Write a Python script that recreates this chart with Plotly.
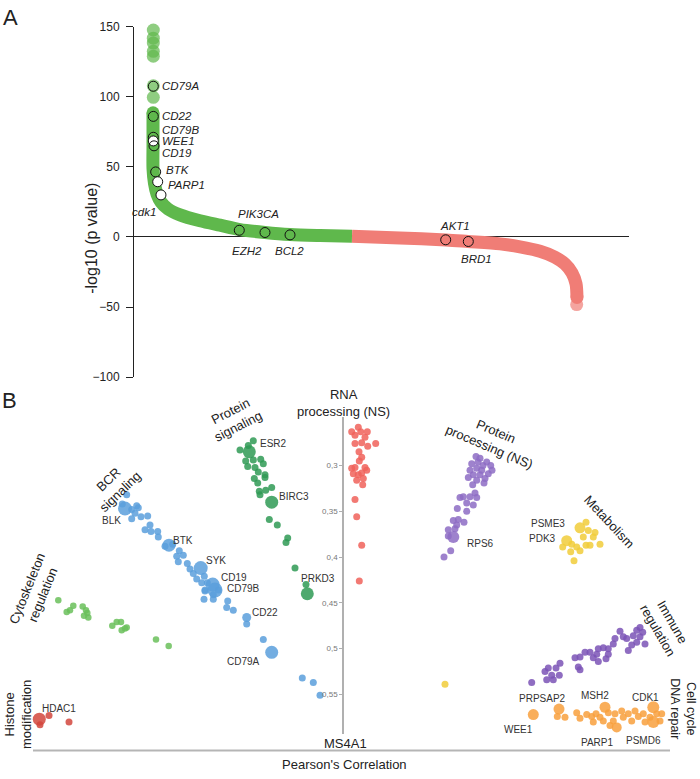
import plotly.graph_objects as go

W, H = 700, 779
FONT = "Liberation Sans, Arial, sans-serif"

# ---------------- Panel A data (rank percentile vs -log10 p) ----------------
green_rank = [3.84, 3.84, 3.84, 4.14, 4.65, 5.45, 6.87, 9.29, 13.33, 17.37, 21.41, 26.46, 31.52, 37.58, 44.04]
green_logp = [88.6, 66.2, 48.7, 38.2, 30.5, 24.9, 20.0, 15.8, 11.6, 8.4, 5.3, 3.2, 1.75, 1.05, 0.6]
red_rank = [44.04, 53.74, 63.03, 67.47, 73.94, 77.98, 82.02, 85.05, 87.07, 88.48, 89.29, 89.49]
red_logp = [0.6, -0.7, -2.1, -3.2, -4.9, -7.0, -10.2, -14.4, -19.3, -25.6, -33.3, -43.1]
top_rank = [3.9, 3.9, 3.9, 3.9, 3.9, 3.9, 3.9]
top_logp = [147.6, 141.8, 138.3, 132.4, 128.9, 107.8, 99.6]
tail_rank = [89.43]
tail_logp = [-48.2]

genesA = ["CD79A", "CD22", "CD79B", "WEE1", "CD19", "BTK", "PARP1", "cdk1",
          "PIK3CA", "EZH2", "BCL2", "AKT1", "BRD1"]
rankA = [3.9, 3.9, 3.9, 3.9, 4.04, 4.38, 4.79, 5.45, 21.27, 26.46, 31.52, 62.97, 67.54]
logpA = [107.5, 86.0, 71.1, 68.5, 65.0, 46.4, 39.4, 30.0, 4.8, 3.2, 1.5, -2.0, -3.2]
white_genes = ["WEE1", "PARP1", "cdk1"]
yticksA = [-100, -50, 0, 50, 100, 150]

# ---------------- Panel B data (layout position vs Pearson correlation) ----------------
bcr_x = [126.7, 122.3, 131.7, 136.7, 135, 138.3, 131.7, 141, 147.7, 150, 145, 151, 157.7, 158.3, 165, 172.7,
         179.3, 176.7, 183.3, 178.3, 187.3, 190, 193.3, 196.7, 204.3, 207.3, 218.3, 205, 201.7, 205, 213.3,
         213.3, 204, 227.7, 226.7, 233.3, 246.7, 263.3, 302.3, 313.3, 320]
bcr_r = [0.332, 0.342, 0.348, 0.344, 0.352, 0.346, 0.358, 0.356, 0.355, 0.365, 0.370, 0.372, 0.372, 0.378,
         0.388, 0.386, 0.393, 0.399, 0.398, 0.405, 0.407, 0.413, 0.418, 0.424, 0.421, 0.428, 0.436, 0.436,
         0.428, 0.437, 0.441, 0.446, 0.446, 0.448, 0.455, 0.458, 0.473, 0.490, 0.532, 0.537, 0.551]
bcr_hub = ["BLK", "BTK", "SYK", "CD19", "CD79B", "CD22", "CD79A"]
bcr_hub_x = [125, 169, 200.7, 212.7, 215, 246.7, 271.7]
bcr_hub_r = [0.347, 0.387, 0.412, 0.430, 0.436, 0.466, 0.504]
bcr_hub_w = [14, 13, 14, 14, 15, 9, 13]

psig_x = [253.3, 248.3, 240, 245.7, 253.3, 260.7, 263.3, 247.7, 255, 258.3, 265, 265, 254.3, 257.7, 265.7,
          271.7, 259.3, 260, 269.3, 277.3, 287.7, 286, 295, 306]
psig_r = [0.273, 0.278, 0.283, 0.295, 0.294, 0.293, 0.298, 0.301, 0.302, 0.307, 0.310, 0.313, 0.314, 0.319,
          0.327, 0.324, 0.328, 0.332, 0.359, 0.365, 0.379, 0.384, 0.412, 0.430]
psig_hub = ["ESR2", "BIRC3", "PRKD3"]
psig_hub_x = [249.3, 271.7, 307.3]
psig_hub_r = [0.285, 0.340, 0.440]
psig_hub_w = [13, 13, 13]

cyto_x = [58.3, 73.3, 70, 66.7, 82.7, 86, 87.3, 84, 88.3, 112.3, 116.7, 121, 126.7, 121.7, 125, 156, 168.7]
cyto_r = [0.447, 0.453, 0.458, 0.460, 0.454, 0.458, 0.461, 0.464, 0.466, 0.475, 0.471, 0.471, 0.477, 0.480,
          0.478, 0.490, 0.497]

hist_x = [49, 40, 69]
hist_r = [0.573, 0.583, 0.580]
hist_hub = ["HDAC1"]
hist_hub_x = [39.3]
hist_hub_r = [0.577]
hist_hub_w = [13]

rna_x = [351.7, 358.3, 360.7, 367.3, 355, 365, 355, 361.7, 367.7, 375.7, 359, 361.7, 359.3, 351.7, 355, 365,
         366.7, 353.3, 358.3, 361.7, 356.7, 363.3, 362.7, 355, 356.7, 361.7, 359.3]
rna_r = [0.263, 0.258, 0.263, 0.263, 0.267, 0.269, 0.276, 0.275, 0.279, 0.276, 0.285, 0.291, 0.295, 0.303,
         0.302, 0.302, 0.305, 0.309, 0.310, 0.308, 0.316, 0.314, 0.321, 0.337, 0.356, 0.387, 0.426]

pproc_x = [476, 480, 486.7, 490.7, 471.7, 470, 476.7, 481.7, 488.3, 473.3, 480, 468.3, 485, 476.7, 472.7,
           475, 460, 463.3, 470, 476.7, 466.7, 473.3, 457.3, 466.7, 453.3, 458.3, 464, 456.7, 448.3, 455,
           448.3, 450.7, 444, 483, 478, 492, 484]
pproc_r = [0.290, 0.292, 0.296, 0.300, 0.298, 0.305, 0.303, 0.305, 0.309, 0.310, 0.310, 0.313, 0.314, 0.316,
           0.321, 0.330, 0.335, 0.334, 0.334, 0.335, 0.341, 0.343, 0.347, 0.350, 0.360, 0.359, 0.362, 0.365,
           0.370, 0.369, 0.377, 0.393, 0.400, 0.300, 0.296, 0.305, 0.319]
pproc_hub = ["RPS6"]
pproc_hub_x = [453.3]
pproc_hub_r = [0.378]
pproc_hub_w = [12]

meta_x = [586, 588.3, 595, 593.3, 600, 562.7, 571.7, 576.7, 580, 570.7, 586, 590, 574, 583.3, 445]
meta_r = [0.362, 0.371, 0.373, 0.378, 0.386, 0.389, 0.386, 0.389, 0.393, 0.394, 0.387, 0.387, 0.404,
          0.378, 0.539]
meta_hub = ["PSME3", "PDK3"]
meta_hub_x = [580, 566.7]
meta_hub_r = [0.368, 0.382]
meta_hub_w = [11, 11]

imm_x = [640, 642.7, 636.7, 633.3, 640, 645, 636.7, 631.7, 626.7, 623.3, 628.3, 615, 613.3, 608.3, 603.3,
         608.3, 606, 598.3, 596.7, 593.3, 598.3, 590, 585, 580, 575, 578.3, 580, 560, 556, 548.3, 545,
         551.7, 559.3, 546.7, 553.3, 531.7, 620]
imm_r = [0.477, 0.482, 0.480, 0.486, 0.487, 0.495, 0.493, 0.496, 0.489, 0.487, 0.502, 0.489, 0.495, 0.500,
         0.499, 0.506, 0.511, 0.500, 0.506, 0.510, 0.514, 0.504, 0.504, 0.509, 0.510, 0.520, 0.523, 0.516,
         0.521, 0.521, 0.525, 0.529, 0.529, 0.534, 0.534, 0.537, 0.481]

cc_x = [557.3, 565, 576.7, 580, 586.7, 591.7, 596, 600, 608.3, 603.3, 615, 613.3, 610, 621.7, 623.3, 628.3,
        631.7, 635, 638.3, 643.3, 645, 656.7, 660, 661.7, 650, 593.3]
cc_r = [0.574, 0.575, 0.570, 0.576, 0.572, 0.574, 0.571, 0.575, 0.570, 0.579, 0.571, 0.579, 0.584, 0.568,
        0.575, 0.571, 0.579, 0.568, 0.574, 0.571, 0.580, 0.571, 0.579, 0.571, 0.575, 0.580]
cc_hub = ["WEE1", "PRPSAP2", "MSH2", "PARP1", "CDK1", "PSMD6"]
cc_hub_x = [533.3, 559, 605, 616.7, 653.3, 653.3]
cc_hub_r = [0.572, 0.566, 0.564, 0.586, 0.564, 0.580]
cc_hub_w = [11, 11, 11, 10, 12, 12]

corr_ticks = [0.3, 0.35, 0.4, 0.45, 0.5, 0.55]
corr_ticktext = ["0,3", "0,35", "0,4", "0,45", "0,5", "0,55"]

# ---------------- styles ----------------
GREEN_A = "#5fb84c"
RED_A = "#f07d76"

fig = go.Figure()

# Panel A
fig.add_trace(go.Scatter(x=top_rank, y=top_logp, mode="markers", xaxis="x", yaxis="y",
                         marker=dict(size=13, color=GREEN_A, opacity=0.7, line=dict(width=0)),
                         hoverinfo="skip", cliponaxis=False))
fig.add_trace(go.Scatter(x=tail_rank, y=tail_logp, mode="markers", xaxis="x", yaxis="y",
                         marker=dict(size=13, color=RED_A, opacity=0.7, line=dict(width=0)),
                         hoverinfo="skip", cliponaxis=False))
fig.add_trace(go.Scatter(x=red_rank, y=red_logp, mode="lines", xaxis="x", yaxis="y",
                         line=dict(color=RED_A, width=13, shape="spline", smoothing=0.8),
                         hoverinfo="skip", cliponaxis=False))
fig.add_trace(go.Scatter(x=green_rank, y=green_logp, mode="lines", xaxis="x", yaxis="y",
                         line=dict(color=GREEN_A, width=13, shape="spline", smoothing=0.8),
                         hoverinfo="skip", cliponaxis=False))
fig.add_trace(go.Scatter(x=green_rank[:1], y=green_logp[:1], mode="markers", xaxis="x", yaxis="y",
                         marker=dict(size=13, color=GREEN_A, line=dict(width=0)),
                         hoverinfo="skip", cliponaxis=False))
fig.add_trace(go.Scatter(x=red_rank[-1:], y=red_logp[-1:], mode="markers", xaxis="x", yaxis="y",
                         marker=dict(size=13, color=RED_A, line=dict(width=0)),
                         hoverinfo="skip", cliponaxis=False))
fig.add_trace(go.Scatter(
    x=rankA, y=logpA, mode="markers", xaxis="x", yaxis="y", text=genesA, hoverinfo="text",
    marker=dict(size=10, color=["white" if g in white_genes else "rgba(0,0,0,0)" for g in genesA],
                line=dict(color="#111", width=1)), cliponaxis=False))

labelA_style = {
    "CD79A": ("left", 7, 0), "CD22": ("left", 7, 0), "CD79B": ("left", 7, 7),
    "WEE1": ("left", 7, 0), "CD19": ("left", 6, -7), "BTK": ("left", 8, 2),
    "PARP1": ("left", 8, -3), "cdk1": ("right", -3, -17), "PIK3CA": ("center", 19, 16),
    "EZH2": ("center", -18, -18), "BCL2": ("center", -1, -16), "AKT1": ("center", 9, 14),
    "BRD1": ("center", 8, -18),
}
for g, xr, yl in zip(genesA, rankA, logpA):
    anc, dx, dy = labelA_style[g]
    fig.add_annotation(x=xr, y=yl, xref="x", yref="y", text="<i>%s</i>" % g, showarrow=False,
                       xanchor=anc, yanchor="middle", xshift=dx, yshift=dy,
                       font=dict(family=FONT, size=11.5, color="#222"))

# Panel B
groups = [
    (cyto_x, cyto_r, None, None, None, None, "#6abf5a", 6.5),
    (hist_x, hist_r, hist_hub, hist_hub_x, hist_hub_r, hist_hub_w, "#d2463d", 7),
    (bcr_x, bcr_r, bcr_hub, bcr_hub_x, bcr_hub_r, bcr_hub_w, "#5b9fdc", 7),
    (psig_x, psig_r, psig_hub, psig_hub_x, psig_hub_r, psig_hub_w, "#2f9a55", 7),
    (rna_x, rna_r, None, None, None, None, "#f0625b", 7),
    (pproc_x, pproc_r, pproc_hub, pproc_hub_x, pproc_hub_r, pproc_hub_w, "#8d6cc4", 7),
    (meta_x, meta_r, meta_hub, meta_hub_x, meta_hub_r, meta_hub_w, "#f1cc3a", 7),
    (imm_x, imm_r, None, None, None, None, "#7b54b6", 7),
    (cc_x, cc_r, cc_hub, cc_hub_x, cc_hub_r, cc_hub_w, "#f8a03d", 7),
]
for gx, gr, hn, hx, hr, hw, col, sz in groups:
    fig.add_trace(go.Scatter(x=gx, y=gr, mode="markers", xaxis="x2", yaxis="y2", hoverinfo="skip",
                             marker=dict(size=sz, color=col, opacity=0.85, line=dict(width=0)),
                             cliponaxis=False))
    if hn:
        fig.add_trace(go.Scatter(x=hx, y=hr, mode="markers", xaxis="x2", yaxis="y2", text=hn,
                                 hoverinfo="text",
                                 marker=dict(size=hw, color=col, opacity=0.85, line=dict(width=0)),
                                 cliponaxis=False))

labelB_shift = {
    "BLK": (-14, -12), "BTK": (14, 5), "SYK": (15, 8), "CD19": (21, 7), "CD79B": (28, 2),
    "CD22": (18, 5), "CD79A": (-28, -9), "ESR2": (24, 8), "BIRC3": (22, 6), "PRKD3": (11, 15),
    "RPS6": (27, -7), "PSME3": (-32, 4), "PDK3": (-24, 2), "HDAC1": (20, 11), "WEE1": (-15, -15),
    "PRPSAP2": (-17, 11), "MSH2": (-10, 12), "PARP1": (-20, -15), "CDK1": (-8, 10), "PSMD6": (-10, -19),
}
for gx, gr, hn, hx, hr, hw, col, sz in groups:
    if not hn:
        continue
    for n, xx, rr in zip(hn, hx, hr):
        dx, dy = labelB_shift[n]
        fig.add_annotation(x=xx, y=rr, xref="x2", yref="y2", text=n, showarrow=False,
                           xshift=dx, yshift=dy, font=dict(family=FONT, size=10, color="#333"))

# category titles (pixel positions -> paper)
cat_titles = [
    ("BCR<br>signaling", 114, 488, -44, 13),
    ("Protein<br>signaling", 234, 420, -27, 13),
    ("Cytoskeleton<br>regulation", 35, 596, -68, 13),
    ("Histone<br>modification", 18, 721, -90, 13),
    ("RNA<br>processing (NS)", 343, 403, 0, 13),
    ("Protein<br>processing (NS)", 492, 440, 23, 13),
    ("Metabolism", 609, 524, 47, 13),
    ("Immune<br>regulation", 665, 630, 60, 13),
    ("Cell cycle<br>DNA repair", 683, 714, 90, 12.5),
]
for t, px, py, ang, fs in cat_titles:
    fig.add_annotation(x=px / W, y=1 - py / H, xref="paper", yref="paper", text=t, showarrow=False,
                       textangle=ang, xanchor="center", yanchor="middle", borderpad=0,
                       font=dict(family=FONT, size=fs, color="#222"))

other_text = [
    ("A", 10, 11, 22), ("B", 9, 401, 22),
    ("-log10 (p value)", 92, 236, 16),
    ("MS4A1", 345, 750, 13), ("Pearson's Correlation", 344, 771, 13),
]
for t, px, py, fs in other_text:
    fig.add_annotation(x=px / W, y=1 - py / H, xref="paper", yref="paper", text=t, showarrow=False,
                       textangle=-90 if t.startswith("-log") else 0,
                       xanchor="center", yanchor="middle", borderpad=0,
                       font=dict(family=FONT, size=fs, color="#222"))

fig.add_shape(type="line", xref="paper", yref="paper", x0=33 / W, x1=670 / W,
              y0=1 - 757 / H, y1=1 - 757 / H, line=dict(color="#b5b5b5", width=2))

fig.update_layout(
    width=W, height=H, margin=dict(l=0, r=0, t=0, b=0),
    paper_bgcolor="white", plot_bgcolor="rgba(0,0,0,0)", showlegend=False,
    xaxis=dict(domain=[134 / W, 629 / W], range=[0, 100], showline=False, showgrid=False,
               zeroline=False, showticklabels=False, ticks="", anchor="y"),
    yaxis=dict(domain=[1 - 377 / H, 1 - 20 / H], range=[-100, 150], anchor="x",
               showline=True, linecolor="#222", linewidth=1, ticks="outside", ticklen=7,
               tickcolor="#222", tickvals=yticksA, showgrid=False, zeroline=True,
               zerolinecolor="#222", zerolinewidth=1, ticklabelstandoff=4,
               tickfont=dict(family=FONT, size=12, color="#222")),
    xaxis2=dict(domain=[0, 1], range=[0, W], showline=False, showgrid=False, zeroline=False,
                showticklabels=False, ticks="", anchor="y2"),
    yaxis2=dict(domain=[1 - 740 / H, 1 - 417 / H], range=[0.5929, 0.2464], anchor="free",
                position=343 / W, showline=True, linecolor="#b0b0b0", linewidth=1.5,
                ticks="outside", ticklen=3, tickcolor="#b0b0b0", tickvals=corr_ticks,
                ticktext=corr_ticktext, showgrid=False, zeroline=False,
                tickfont=dict(family=FONT, size=8, color="#777")),
)

fig.write_html("out.html", config={"displayModeBar": False},
               post_script="document.body.style.margin='0px';")
